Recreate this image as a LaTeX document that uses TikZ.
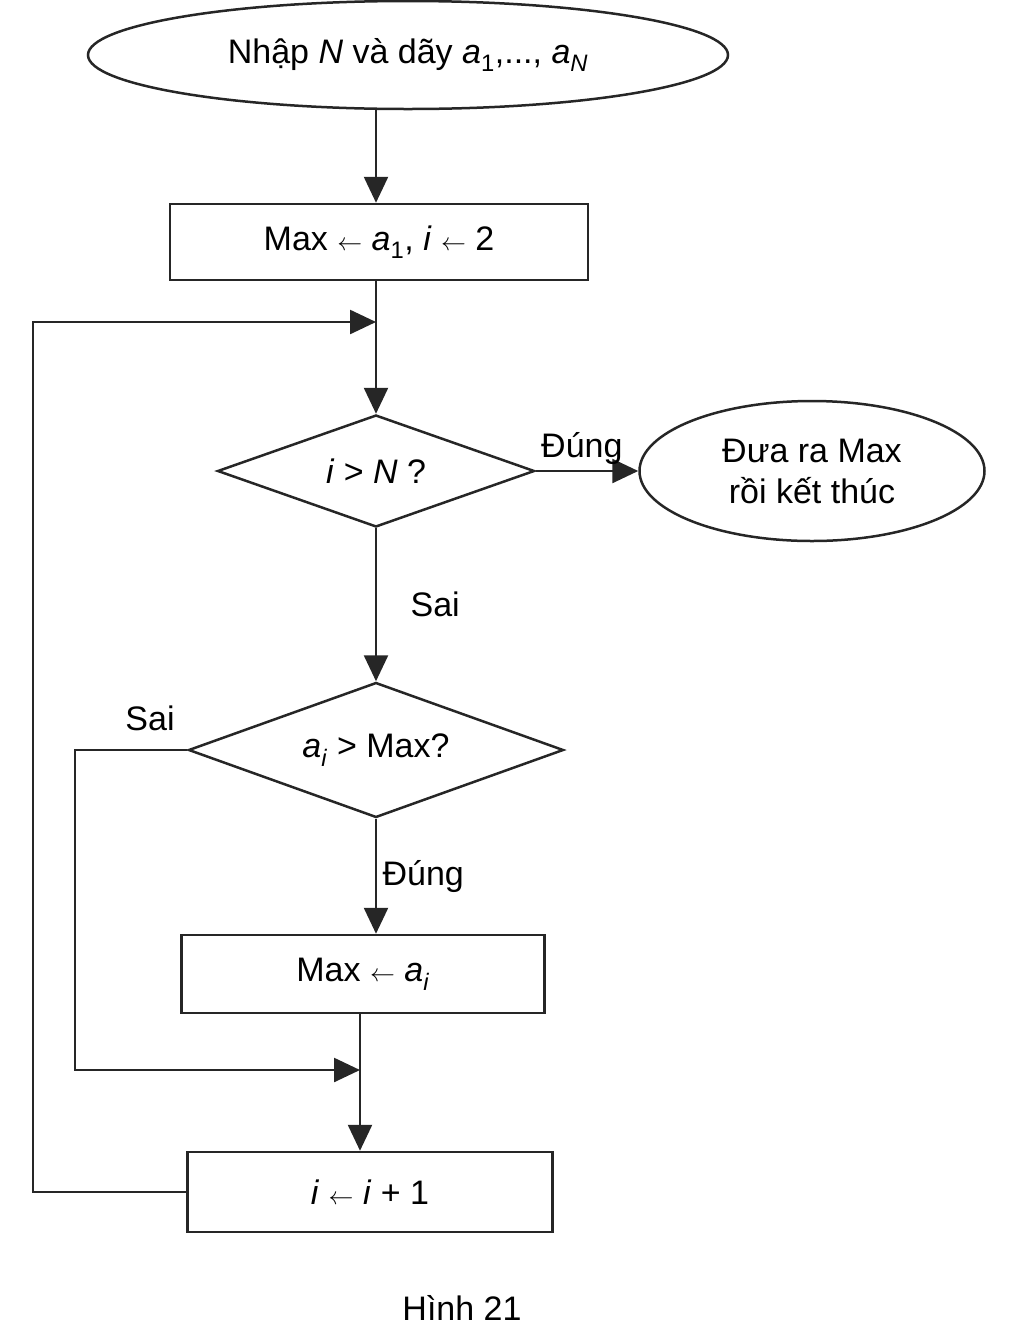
\documentclass[tikz,border=0pt]{standalone}
\usepackage{fontspec}
\setmainfont{Liberation Sans}
\usetikzlibrary{shapes.geometric,arrows.meta}
\begin{document}
\begin{tikzpicture}[x=1pt,y=-1pt,
  every node/.style={font=\fontsize{34}{41}\selectfont},
  line/.style={line width=2.5pt,draw=black!85},
  arr/.style={line, -{Triangle[length=26pt,width=24pt]}},
  box/.style={line, rectangle, minimum width=418pt, minimum height=76pt},
  term/.style={line, ellipse, inner sep=0pt},
  dia/.style={line, diamond, aspect=2.8, inner sep=0pt}]
\useasboundingbox (0,0) rectangle (1024,1334);
\node[term, minimum width=640pt, minimum height=108pt] (start) at (408,55) {Nhập \textit{N} và dãy \textit{a}\textsubscript{1},..., \textit{a}\textsubscript{\textit{N}}};
\node[box] (init) at (379,242) {Max $\leftarrow$ \textit{a}\textsubscript{1}, \textit{i} $\leftarrow$ 2};
\node[dia, minimum width=317pt, minimum height=112pt] (d1) at (376,471) {\textit{i} > \textit{N} ?};
\node[term, minimum width=345pt, minimum height=140pt, align=center] (end) at (812,471) {Đưa ra Max\\rồi kết thúc};
\node[dia, minimum width=375pt, minimum height=135pt] (d2) at (376,750) {\textit{a}\textsubscript{\textit{i}} > Max?};
\node[box, minimum width=363pt, minimum height=78pt] (upd) at (363,974) {Max $\leftarrow$ \textit{a}\textsubscript{\textit{i}}};
\node[box, minimum width=365pt, minimum height=80pt] (inc) at (370,1192) {\textit{i} $\leftarrow$ \textit{i} + 1};
\coordinate (loop) at (376,322);
\coordinate (join) at (360,1070);
\draw[arr] (start.south -| 376,0) -- (init.north -| 376,0);
\draw[line] (init.south -| loop) -- (loop);
\draw[arr] (loop) -- (d1.north);
\draw[arr] (d1.east) -- (end.west) node[pos=0.45, above=2pt] {Đúng};
\draw[arr] (d1.south) -- (d2.north) node[midway, right=30pt] {Sai};
\draw[arr] (d2.south) -- (upd.north -| d2.south) node[midway, right=2pt] {Đúng};
\draw[arr] (d2.west) -- (75,750) -- (75,1070) -- (join);
\node at (150,718) {Sai};
\draw[arr] (upd.south -| join) -- (inc.north -| join);
\draw[arr] (inc.west) -- (33,1192) -- (33,322) -- (loop);
\node at (462,1308) {Hình 21};
\end{tikzpicture}
\end{document}
